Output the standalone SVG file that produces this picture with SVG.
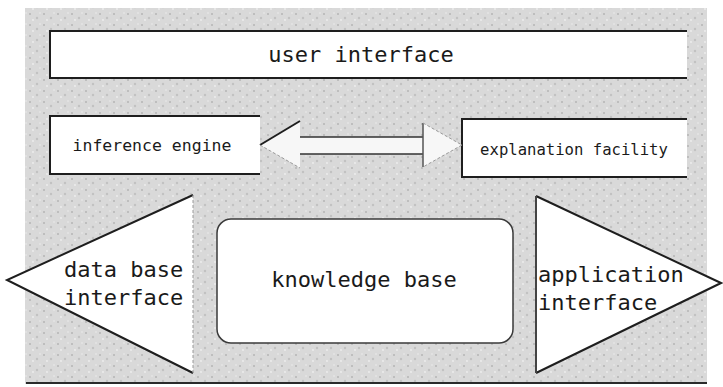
<svg xmlns="http://www.w3.org/2000/svg" width="723" height="387" viewBox="0 0 723 387">
<style>
  .lbl { font-family: "DejaVu Sans Mono", "Liberation Mono", monospace; fill: #1a1a1a; }
  .edge { fill: none; stroke: #1e1e1e; stroke-width: 2; }
  .faint { fill: none; stroke: #9a9a9a; stroke-width: 1; stroke-dasharray: 3 2; }
  .box { fill: #ffffff; stroke: none; }
</style>
<defs>
  <pattern id="noise" width="14" height="11" patternUnits="userSpaceOnUse">
    <rect width="14" height="11" fill="#d9d9d9"/>
    <circle cx="2" cy="3" r="1" fill="#b5b5b5"/>
    <circle cx="9" cy="7" r="1.2" fill="#c2c2c2"/>
    <circle cx="12" cy="2" r="0.8" fill="#ececec"/>
    <circle cx="5" cy="9" r="0.9" fill="#efefef"/>
  </pattern>
</defs>
<rect x="0" y="0" width="723" height="387" fill="#ffffff"/>
<rect x="25" y="8" width="682" height="376" fill="url(#noise)"/>
<line x1="26" y1="383" x2="707" y2="383" stroke="#2a2a2a" stroke-width="2"/>

<g id="user-interface">
  <rect class="box" x="50" y="31" width="637" height="47"/>
  <path class="edge" d="M687,31 H50 V78 H687"/>
  <text class="lbl" x="361" y="62" font-size="22" text-anchor="middle">user interface</text>
</g>

<g id="inference-engine">
  <rect class="box" x="50" y="116" width="210" height="58"/>
  <path class="edge" d="M260,116 H50 V174 H260"/>
  <text class="lbl" x="152" y="151" font-size="16.5" text-anchor="middle">inference engine</text>
</g>

<g id="explanation-facility">
  <rect class="box" x="462" y="119" width="225" height="58"/>
  <path class="edge" d="M687,119 H462 V177 H687"/>
  <text class="lbl" x="574" y="155" font-size="15.6" text-anchor="middle">explanation facility</text>
</g>

<g id="connectors">
  <polygon points="260,145 300,121 300,137 423,137 423,123 462,145 423,167 423,154 300,154 300,168" fill="#f7f7f7"/>
  <path d="M300,121 L260,145" stroke="#1e1e1e" stroke-width="2" fill="none"/>
  <path class="faint" d="M260,145 L300,168"/>
  <path d="M300,137 H423 M300,154 H423" stroke="#333" stroke-width="1.5" fill="none"/>
  <path d="M423,123 V167" stroke="#555" stroke-width="1.5" fill="none"/>
  <path class="faint" d="M423,123 L462,145 L423,167"/>
</g>

<g id="knowledge-base">
  <rect x="217" y="219" width="296" height="124" rx="14" ry="14" fill="#ffffff" stroke="#3a3a3a" stroke-width="1.5"/>
  <text class="lbl" x="364" y="287" font-size="22" text-anchor="middle">knowledge base</text>
</g>

<g id="data-base-interface">
  <polygon points="7,280 193,195 193,373" fill="#ffffff" stroke="none"/>
  <path class="edge" d="M193,195 L7,280 L193,373"/>
  <path class="faint" d="M193,195 V373"/>
  <text class="lbl" x="64" y="277" font-size="22">data base</text>
  <text class="lbl" x="64" y="305" font-size="22">interface</text>
</g>

<g id="application-interface">
  <polygon points="536,196 721,283 536,373" fill="#ffffff" stroke="none"/>
  <path class="edge" d="M536,196 L721,283 L536,373"/>
  <path d="M536,196 V373" stroke="#444" stroke-width="2" fill="none"/>
  <text class="lbl" x="538" y="282" font-size="22">application</text>
  <text class="lbl" x="538" y="310" font-size="22">interface</text>
</g>
</svg>
